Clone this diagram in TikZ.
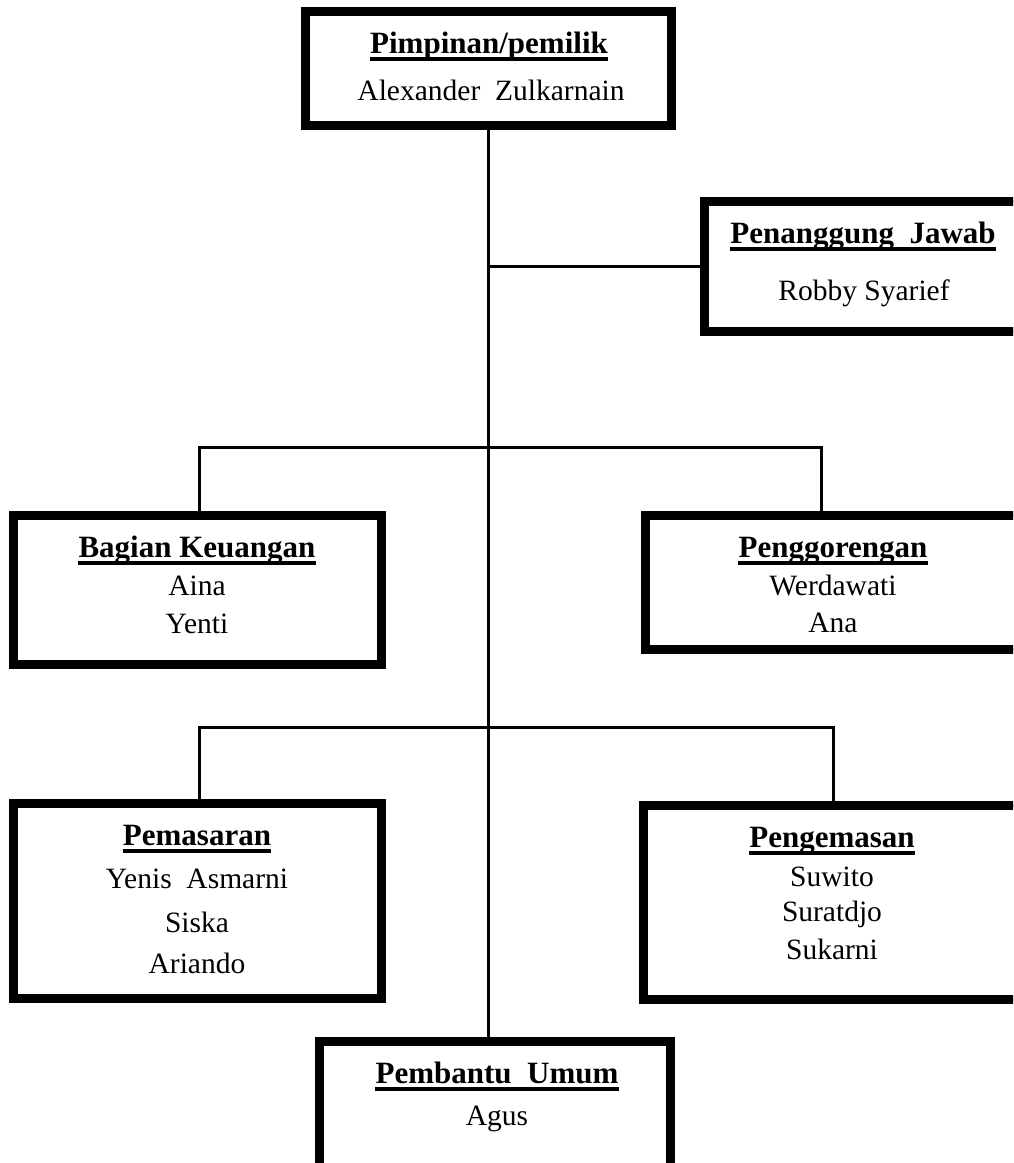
\documentclass[tikz,border=0pt]{standalone}
\usepackage{fontspec}
\setmainfont{Liberation Serif}
\begin{document}
\begin{tikzpicture}[x=1pt,y=-1pt,
  box/.style={draw=black,line width=6pt,rectangle,inner sep=0pt,fill=white},
  conn/.style={draw=black,line width=3pt},
  ttl/.style={anchor=base,inner sep=0pt,font=\fontsize{31}{36}\selectfont\bfseries},
  nm/.style={anchor=base,inner sep=0pt,font=\fontsize{29.5}{34}\selectfont},
  ul/.style={line width=4.5pt}]
\useasboundingbox (0,0) rectangle (1013,1163);
\clip (0,0) rectangle (1013,1163);
% boxes
\node[box,minimum width=363pt,minimum height=111pt] (top) at (488.5,68.5) {};
\node[box,minimum width=324pt,minimum height=127pt] (pj) at (868,266.5) {};
\node[box,minimum width=365pt,minimum height=146pt] (keu) at (197.5,590) {};
\node[box,minimum width=383pt,minimum height=131pt] (gor) at (838.5,582.5) {};
\node[box,minimum width=365pt,minimum height=192pt] (pas) at (197.5,901) {};
\node[box,minimum width=385pt,minimum height=191pt] (kem) at (837.5,902.5) {};
\node[box,minimum width=348pt,minimum height=157pt] (ban) at (495,1121.5) {};
% connectors
\coordinate (b1l) at (199,447);
\coordinate (b1r) at (821,447);
\coordinate (b2l) at (199,727);
\coordinate (b2r) at (833,727);
\begin{scope}[on background layer/.style={}]
\draw[conn] (top.south) -- (top.south |- ban.north);
\draw[conn] (pj.west) -- (pj.west -| top.south);
\draw[conn] (b1l |- keu.north) -- (b1l) -- (b1r) -- (b1r |- gor.north);
\draw[conn] (b2l |- pas.north) -- (b2l) -- (b2r) -- (b2r |- kem.north);
\end{scope}
% redraw box borders over connector ends
\foreach \n in {top,pj,keu,gor,pas,kem,ban}{
  \draw[line width=6pt] (\n.north west) rectangle (\n.south east);
}
% texts
\node[ttl] (t1) at (489,53) {Pimpinan/pemilik};
\node[nm] (n1) at (491,100) {Alexander\ \ Zulkarnain};
\node[ttl] (t2) at (863,243) {Penanggung\ \ Jawab};
\node[nm] (n2) at (864,300) {Robby Syarief};
\node[ttl] (t3) at (197,557) {Bagian Keuangan};
\node[nm] (n3a) at (197,595) {Aina};
\node[nm] (n3b) at (197,633) {Yenti};
\node[ttl] (t4) at (833,557) {Penggorengan};
\node[nm] (n4a) at (833,595) {Werdawati};
\node[nm] (n4b) at (833,632) {Ana};
\node[ttl] (t5) at (197,845) {Pemasaran};
\node[nm] (n5a) at (197,888) {Yenis\ \ Asmarni};
\node[nm] (n5b) at (197,932) {Siska};
\node[nm] (n5c) at (197,973) {Ariando};
\node[ttl] (t6) at (832,847) {Pengemasan};
\node[nm] (n6a) at (832,886) {Suwito};
\node[nm] (n6b) at (832,921) {Suratdjo};
\node[nm] (n6c) at (832,959) {Sukarni};
\node[ttl] (t7) at (497,1083) {Pembantu\ \ Umum};
\node[nm] (n7) at (497,1125) {Agus};
% underlines
\foreach \t in {t1,t2,t3,t4,t5,t6,t7}{
  \draw[ul] ([yshift=-6pt]\t.base west) -- ([yshift=-6pt]\t.base east);
}
\end{tikzpicture}
\end{document}
